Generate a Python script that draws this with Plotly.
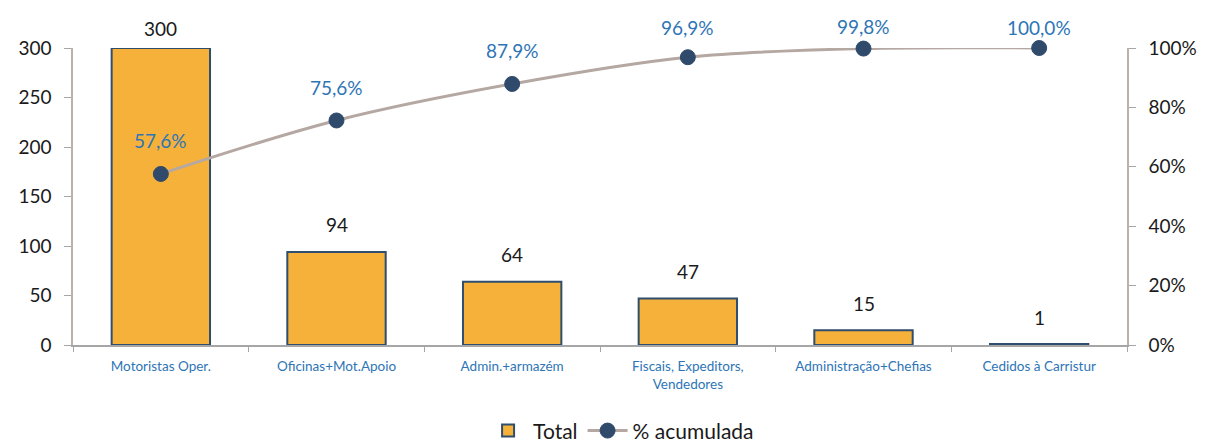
import plotly.graph_objects as go

categories = ["Motoristas Oper.", "Oficinas+Mot.Apoio", "Admin.+armazém",
              "Fiscais, Expeditors,<br>Vendedores", "Administração+Chefias", "Cedidos à Carristur"]
totals = [300, 94, 64, 47, 15, 1]
cum_pct = [57.6, 75.6, 87.9, 96.9, 99.8, 100.0]
left_ticks = [0, 50, 100, 150, 200, 250, 300]
right_ticks = [0, 20, 40, 60, 80, 100]

FONT = "Lato, Open Sans, sans-serif"
BLUE = "#2E75B6"

# layout geometry (the page body adds an 8px offset, figure sized to the rest)
FIG_W, FIG_H = 1201, 436
M_L, M_R, M_T, M_B = 65, 82, 40, 99
PLOT_H = FIG_H - M_T - M_B
Y_MAX = 300


def label_shift(frac, gap, min_top):
    """Pixel shift above a point, clamped so labels stay near the chart top."""
    py = M_T + (1 - frac) * PLOT_H
    return min(gap, py - min_top)


fig = go.Figure()
fig.add_trace(go.Bar(
    x=categories, y=totals, name="Total",
    marker=dict(color="#F6B13A", line=dict(color="#2F4E6E", width=2)),
    width=0.56, cliponaxis=False,
))
fig.add_trace(go.Scatter(
    x=categories, y=[v / 100 for v in cum_pct], name="% acumulada", yaxis="y2",
    mode="lines+markers",
    line=dict(color="#B5A7A2", width=3, shape="spline", smoothing=1),
    marker=dict(color="#2F4A6B", size=15, line=dict(color="#2F4A6B", width=1)),
    cliponaxis=False,
))

annotations = []
for c, v in zip(categories, totals):
    annotations.append(dict(x=c, y=v, xref="x", yref="y", text=str(v), showarrow=False,
                            yshift=label_shift(v / Y_MAX, 27, 20),
                            font=dict(family=FONT, size=19, color="#1a1a1a")))
for c, v in zip(categories, cum_pct):
    annotations.append(dict(x=c, y=v / 100, xref="x", yref="y2",
                            text=f"{v:.1f}".replace(".", ",") + "%", showarrow=False,
                            yshift=label_shift(v / 100, 33, 19),
                            font=dict(family=FONT, size=19, color=BLUE)))

fig.update_layout(
    width=FIG_W, height=FIG_H,
    margin=dict(l=M_L, r=M_R, t=M_T, b=M_B, autoexpand=False),
    plot_bgcolor="white", paper_bgcolor="white",
    showlegend=True,
    legend=dict(orientation="h", x=0.52, xanchor="center", yref="container", y=0.03,
                yanchor="middle",
                font=dict(family=FONT, size=21, color="#1a1a1a"), traceorder="normal",
                itemwidth=40),
    annotations=annotations,
    bargap=0.44,
    xaxis=dict(type="category", showline=True, linecolor="#A6A6A6", linewidth=1.5,
               ticks="outside", tickson="boundaries", ticklen=5, tickcolor="#A6A6A6",
               ticklabelstandoff=8,
               tickfont=dict(family=FONT, size=13.5, color=BLUE), showgrid=False,
               automargin=False),
    yaxis=dict(range=[0, Y_MAX], tickvals=left_ticks, showline=True, linecolor="#BFB0B0",
               linewidth=1.5, ticks="outside", ticklen=7, tickcolor="#A6A6A6",
               ticklabelstandoff=9,
               tickfont=dict(family=FONT, size=19, color="#1a1a1a"), showgrid=False,
               zeroline=False, automargin=False),
    yaxis2=dict(range=[0, 1], overlaying="y", side="right",
                tickvals=[t / 100 for t in right_ticks],
                ticktext=[f"{t}%" for t in right_ticks],
                showline=True, linecolor="#BFB0B0", linewidth=1.5, ticks="outside",
                ticklen=7, tickcolor="#A6A6A6", ticklabelstandoff=9,
                tickfont=dict(family=FONT, size=19, color="#1a1a1a"), showgrid=False,
                zeroline=False, automargin=False),
)

fig.write_html("out.html")
